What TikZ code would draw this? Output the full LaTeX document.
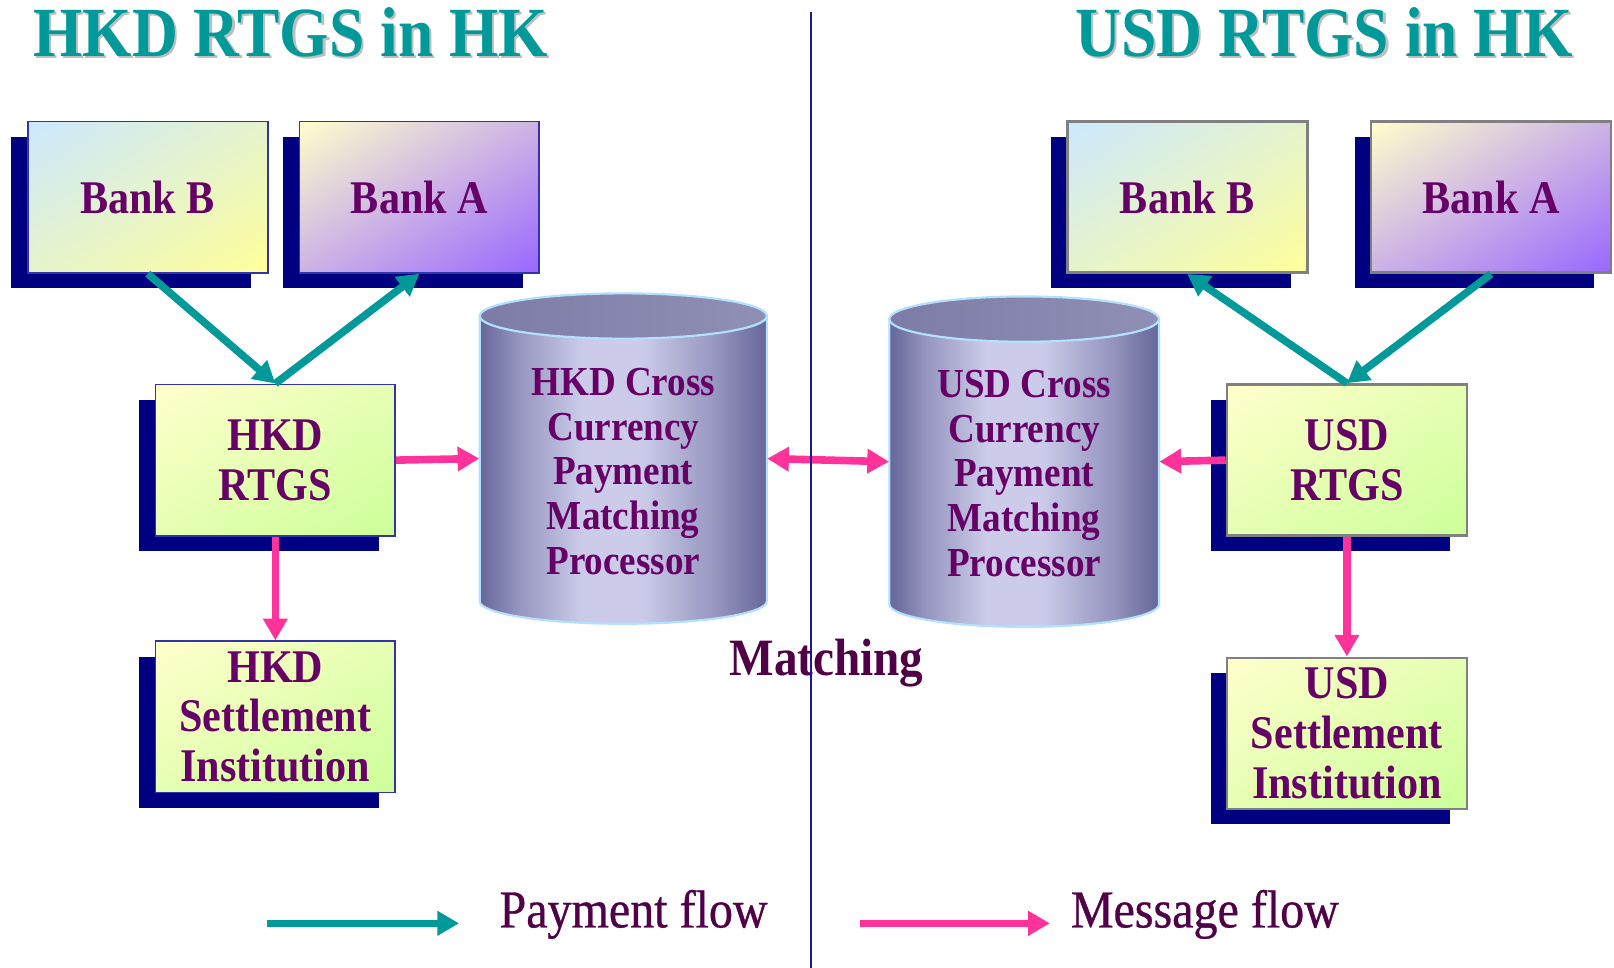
\documentclass[tikz,border=0pt]{standalone}
\usepackage{fontspec}
\setmainfont{Liberation Serif}[FakeStretch=0.9]
\newfontfamily\legendfamily{Liberation Serif}[FakeStretch=0.9, FakeBold=0.6]
\usetikzlibrary{arrows.meta,shadows,shadings}

% palette
\definecolor{navyshadow}{RGB}{0,0,128}
\definecolor{tealflow}{RGB}{0,153,153}
\definecolor{pinkflow}{RGB}{255,51,153}
\definecolor{boxtext}{RGB}{102,0,102}
\definecolor{labeltext}{RGB}{80,0,70}
\definecolor{titleshadow}{RGB}{190,190,190}
\definecolor{hkborder}{RGB}{51,51,170}
\definecolor{usborder}{RGB}{128,128,128}
\definecolor{skyblue}{RGB}{204,232,255}
\definecolor{paleyellow}{RGB}{255,255,204}
\definecolor{lemon}{RGB}{255,255,153}
\definecolor{bankviolet}{RGB}{153,102,255}
\definecolor{rtgsgreen}{RGB}{204,255,153}
\definecolor{cyldark}{RGB}{102,102,153}
\definecolor{cylmid}{RGB}{150,150,192}
\definecolor{cyllight}{RGB}{204,204,234}
\definecolor{cyltopl}{RGB}{124,124,166}
\definecolor{cyltopr}{RGB}{144,144,182}
\definecolor{cylrim}{RGB}{179,224,255}
\definecolor{divider}{RGB}{26,26,140}

% cylinder body: dark rims, light band left of centre
\pgfdeclarehorizontalshading{cylbody}{100bp}{color(0bp)=(cyldark); color(25bp)=(cyldark); color(32bp)=(cylmid); color(43bp)=(cyllight); color(53bp)=(cyllight); color(66bp)=(cylmid); color(75bp)=(cyldark); color(100bp)=(cyldark)}

\newcommand{\boxfont}{\bfseries\fontsize{25.9}{27.6}\selectfont}
\newcommand{\cylfont}{\bfseries\fontsize{22.8}{24.75}\selectfont}
\newcommand{\headfont}{\bfseries\fontsize{39}{44}\selectfont}
\newcommand{\matchfont}{\bfseries\fontsize{29}{33}\selectfont}
\newcommand{\legendfont}{\legendfamily\fontsize{29.5}{33}\selectfont}

\tikzset{
  box/.style={rectangle, minimum width=4.66cm, minimum height=2.94cm, inner sep=0pt,
    align=center, text=boxtext, font=\boxfont, line width=1pt,
    general shadow={fill=navyshadow, shadow xshift=-0.32cm, shadow yshift=-0.30cm}},
  hkbox/.style={box, draw=hkborder},
  usbox/.style={box, draw=usborder, line width=1.4pt},
  bankbfill/.style={upper left=skyblue, lower right=lemon,
    upper right=skyblue!50!lemon, lower left=skyblue!50!lemon},
  bankafill/.style={upper left=paleyellow, lower right=bankviolet,
    upper right=paleyellow!50!bankviolet, lower left=paleyellow!50!bankviolet},
  rtgsfill/.style={upper left=paleyellow, lower right=rtgsgreen,
    upper right=paleyellow!50!rtgsgreen, lower left=paleyellow!50!rtgsgreen},
  cylframe/.style={rectangle, inner sep=0pt, minimum height=6.42cm},
  cyltext/.style={align=center, text=boxtext, font=\cylfont, inner sep=0pt},
  headline/.style={anchor=base, text=tealflow, font=\headfont, inner sep=0pt},
  headshadow/.style={headline, text=titleshadow},
  legendtext/.style={anchor=base, text=labeltext, font=\legendfont, inner sep=0pt},
  tip/.tip={Triangle[length=12pt,width=13pt]},
  payflow/.style={draw=tealflow, line width=4.2pt, -tip},
  msgflow/.style={draw=pinkflow, line width=4.2pt, -tip},
  msgboth/.style={draw=pinkflow, line width=4.2pt, tip-tip},
}

\begin{document}
\begin{tikzpicture}[x=0.02cm, y=-0.02cm]
\fill[white] (0,0) rectangle (1568,940);
\useasboundingbox (0,0) rectangle (1568,940);

% headings with drop shadow
\node[headshadow] (hkheadsh) at (284.5,57) {HKD RTGS in HK};
\node[headline] (hkhead) at (282.5,55) {HKD RTGS in HK};
\node[headshadow] (usheadsh) at (1288.5,57) {USD RTGS in HK};
\node[headline] (ushead) at (1286.5,55) {USD RTGS in HK};

% HKD side boxes
\node[hkbox, bankbfill] (hkbankb) at (143.5,191.5) {Bank B};
\node[hkbox, bankafill] (hkbanka) at (407.5,191.5) {Bank A};
\node[hkbox, rtgsfill] (hkrtgs) at (267.5,447) {HKD\\RTGS};
\node[hkbox, rtgsfill] (hksettle) at (267.5,696.5) {HKD\\Settlement\\Institution};

% USD side boxes
\node[usbox, bankbfill] (usbankb) at (1153.5,191.5) {Bank B};
\node[usbox, bankafill] (usbanka) at (1448.5,191.5) {Bank A};
\node[usbox, rtgsfill] (usrtgs) at (1308.5,447) {USD\\RTGS};
\node[usbox, rtgsfill] (ussettle) at (1308.5,712.5) {USD\\Settlement\\Institution};

% HKD matching processor cylinder
\shadedraw[shading=cylbody, draw=cylrim, line width=1.2pt]
  (466,307) -- (466,584) .. controls (466,596.15) and (528.5,606) .. (605.5,606)
  .. controls (682.5,606) and (745,596.15) .. (745,584) -- (745,307) -- cycle;
\shadedraw[left color=cyltopl, right color=cyltopr, draw=cylrim, line width=1.2pt]
  (605.5,307) ellipse [x radius=139.5, y radius=22];
\node[cylframe, minimum width=5.58cm] (hkcyl) at (605.5,445.5) {};
\node[cyltext] (hkcyltext) at (605.5,458) {HKD Cross\\Currency\\Payment\\Matching\\Processor};

% USD matching processor cylinder
\shadedraw[shading=cylbody, draw=cylrim, line width=1.2pt]
  (864,310) -- (864,587) .. controls (864,599.15) and (922.65,609) .. (995,609)
  .. controls (1067.35,609) and (1126,599.15) .. (1126,587) -- (1126,310) -- cycle;
\shadedraw[left color=cyltopl, right color=cyltopr, draw=cylrim, line width=1.2pt]
  (995,310) ellipse [x radius=131, y radius=22];
\node[cylframe, minimum width=5.24cm] (uscyl) at (995,448.5) {};
\node[cyltext] (uscyltext) at (995,460) {USD Cross\\Currency\\Payment\\Matching\\Processor};

\node[anchor=base, text=labeltext, font=\matchfont, inner sep=0pt] (matching) at (803,656) {Matching};

% payment flows
\draw[payflow] (hkbankb.south) -- (hkrtgs.north);
\draw[payflow] (hkrtgs.north) -- (hkbanka.south);
\draw[payflow] (usrtgs.north) -- (usbankb.south);
\draw[payflow] (usbanka.south) -- (usrtgs.north);

% message flows
\draw[msgflow] (hkrtgs.east) -- (hkcyl.west);
\draw[msgflow] (hkrtgs.south) -- (hksettle.north);
\draw[msgflow] (usrtgs.west) -- (uscyl.east);
\draw[msgflow] (usrtgs.south) -- (ussettle.north);
\draw[msgboth] (hkcyl.east) -- (uscyl.west);

% legend
\coordinate (paystart) at (259,897);
\coordinate (payend) at (446,897);
\coordinate (msgstart) at (835,897);
\coordinate (msgend) at (1020,897);
\draw[payflow] (paystart) -- (payend);
\draw[msgflow] (msgstart) -- (msgend);
\node[legendtext] (paylabel) at (615.5,901) {Payment flow};
\node[legendtext] (msglabel) at (1170.5,901) {Message flow};

% divider between the two systems
\coordinate (divtop) at (788,12);
\coordinate (divbot) at (788,940);
\draw[divider, line width=1.1pt] (divtop) -- (divbot);
\end{tikzpicture}
\end{document}
